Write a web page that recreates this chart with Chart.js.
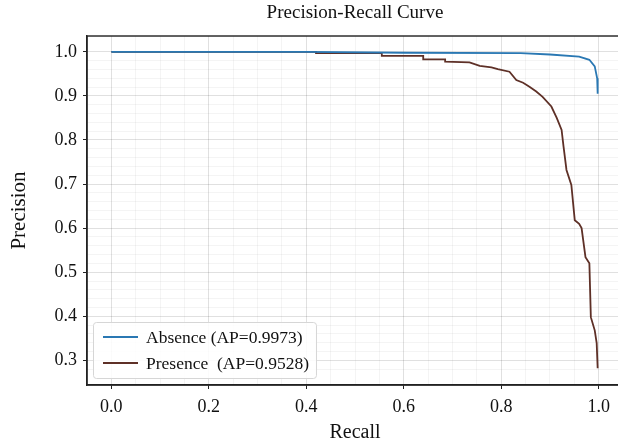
<!DOCTYPE html>
<html><head><meta charset="utf-8">
<script src="https://cdn.jsdelivr.net/npm/chart.js@4/dist/chart.umd.min.js"></script>
<style>
html,body{margin:0;padding:0;overflow:hidden;background:#fff;width:618px;height:447px}
#wrap{position:relative;width:630px;height:447px}
</style></head><body>
<div id="wrap"><canvas id="c" width="630" height="447"></canvas></div>
<script>
const chartTitle = 'Precision-Recall Curve';
const xAxisLabel = 'Recall';
const yAxisLabel = 'Precision';
const seriesNames = ['Absence (AP=0.9973)', 'Presence  (AP=0.9528)'];

const absenceRecall    = [0.0, 0.40, 0.60, 0.84, 0.90, 0.96, 0.981, 0.992, 0.997, 0.998];
const absencePrecision = [1.0, 1.0, 0.998, 0.997, 0.994, 0.989, 0.982, 0.967, 0.94, 0.905];

const presenceRecall    = [0.0, 0.42, 0.42, 0.555, 0.555, 0.64, 0.64, 0.685, 0.685, 0.735, 0.756, 0.78, 0.793, 0.817, 0.831, 0.845, 0.858, 0.872, 0.885, 0.903, 0.914, 0.924, 0.928, 0.934, 0.944, 0.951, 0.96, 0.965, 0.973, 0.981, 0.984, 0.992, 0.996, 0.998];
const presencePrecision = [1.0, 1.0, 0.997, 0.997, 0.991, 0.991, 0.983, 0.983, 0.978, 0.976, 0.968, 0.965, 0.961, 0.955, 0.936, 0.93, 0.921, 0.91, 0.898, 0.876, 0.85, 0.823, 0.785, 0.732, 0.698, 0.618, 0.61, 0.60, 0.534, 0.52, 0.398, 0.368, 0.339, 0.282];

const xTickLabels = ['0.0', '0.2', '0.4', '0.6', '0.8', '1.0'];
const yTickLabels = ['0.3', '0.4', '0.5', '0.6', '0.7', '0.8', '0.9', '1.0'];

const seriesColors = ['#2a78b3', '#5e3027'];
const FONT = "'Liberation Serif', 'Times New Roman', serif";

function toPoints(xs, ys) { return xs.map((x, i) => ({x: x, y: ys[i]})); }

function isMajorX(v) { const k = Math.round(v * 100); return k % 20 === 0 && k >= 0 && k <= 100; }
function isMajorY(v) { const k = Math.round(v * 100); return Math.abs(v * 100 - k) < 1e-6 && k % 10 === 0 && k >= 30 && k <= 100; }

const frameAndLegend = {
  id: 'frameAndLegend',
  afterDatasetsDraw(chart) {
    const {ctx, chartArea: a} = chart;
    ctx.save();
    ctx.strokeStyle = '#222';
    ctx.lineWidth = 1.4;
    ctx.strokeRect(a.left, a.top, a.right - a.left, a.bottom - a.top);
    ctx.font = '17.5px ' + FONT;
    const ds = chart.data.datasets;
    let maxW = 0;
    ds.forEach(d => { maxW = Math.max(maxW, ctx.measureText(d.label).width); });
    const x0 = a.left + 6, rowH = 26;
    const w = 10 + 35 + 8 + maxW + 7;
    const h = rowH * ds.length + 4;
    const y0 = a.bottom - 7 - h;
    ctx.fillStyle = 'rgba(255,255,255,0.85)';
    ctx.strokeStyle = '#d6d6d6';
    ctx.lineWidth = 1;
    ctx.beginPath();
    ctx.roundRect(x0 + 0.5, y0 + 0.5, w, h, 3);
    ctx.fill();
    ctx.stroke();
    ds.forEach((d, i) => {
      const cy = y0 + 15 + i * rowH;
      ctx.strokeStyle = d.borderColor;
      ctx.lineWidth = 2;
      ctx.beginPath();
      ctx.moveTo(x0 + 10, cy);
      ctx.lineTo(x0 + 45, cy);
      ctx.stroke();
      ctx.fillStyle = '#111';
      ctx.textBaseline = 'middle';
      ctx.textAlign = 'left';
      ctx.fillText(d.label, x0 + 53, cy + 1);
    });
    ctx.restore();
  }
};

new Chart(document.getElementById('c'), {
  type: 'line',
  data: {
    datasets: [
      {label: seriesNames[0], data: toPoints(absenceRecall, absencePrecision), borderColor: seriesColors[0], borderWidth: 1.8, pointRadius: 0, fill: false, tension: 0},
      {label: seriesNames[1], data: toPoints(presenceRecall, presencePrecision), borderColor: seriesColors[1], borderWidth: 1.8, pointRadius: 0, fill: false, tension: 0}
    ]
  },
  options: {
    responsive: false,
    animation: false,
    devicePixelRatio: 1,
    layout: {padding: {left: 0, right: 6, top: 0, bottom: 0}},
    plugins: {
      legend: {display: false},
      tooltip: {enabled: false},
      title: {display: true, fullSize: false, text: chartTitle, color: '#111', font: {family: FONT, size: 19, weight: 'normal'}, padding: {top: 2, bottom: 11.2}}
    },
    scales: {
      x: {
        type: 'linear', min: -0.05, max: 1.05,
        border: {display: true, color: '#222', width: 1.4},
        grid: {
          color: c => isMajorX(c.tick.value) ? 'rgba(0,0,0,0.12)' : 'rgba(0,0,0,0.045)',
          tickColor: c => isMajorX(c.tick.value) ? '#222' : 'rgba(0,0,0,0)',
          tickLength: 4, lineWidth: 1
        },
        ticks: {
          stepSize: 0.05, autoSkip: false, maxRotation: 0, color: '#111', padding: 7,
          font: {family: FONT, size: 18},
          callback: v => isMajorX(v) ? xTickLabels[Math.round(v * 5)] : ''
        },
        title: {display: true, text: xAxisLabel, color: '#111', font: {family: FONT, size: 20}, padding: {top: 2, bottom: 2.5}},
        afterFit: s => { s.height = 62; }
      },
      y: {
        type: 'linear', min: 0.244, max: 1.036,
        border: {display: true, color: '#222', width: 1.4},
        grid: {
          color: c => isMajorY(c.tick.value) ? 'rgba(0,0,0,0.12)' : 'rgba(0,0,0,0.045)',
          tickColor: c => isMajorY(c.tick.value) ? '#222' : 'rgba(0,0,0,0)',
          tickLength: 4, lineWidth: 1
        },
        ticks: {
          stepSize: 0.02, autoSkip: false, color: '#111', padding: 6,
          font: {family: FONT, size: 18},
          callback: v => isMajorY(v) ? yTickLabels[Math.round(v * 10) - 3] : ''
        },
        title: {display: true, text: yAxisLabel, color: '#111', font: {family: FONT, size: 21}, padding: {top: 7, bottom: 0}},
        afterFit: s => { s.width = 87; }
      }
    }
  },
  plugins: [frameAndLegend]
});
</script>
</body></html>
